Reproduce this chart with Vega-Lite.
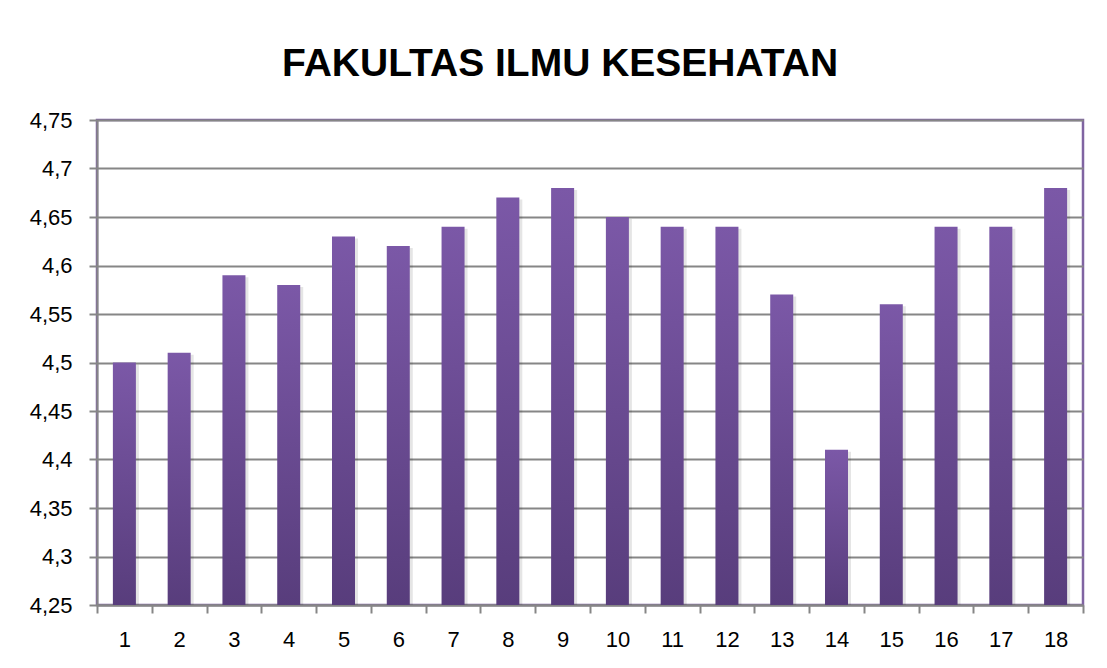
{
  "$schema": "https://vega.github.io/schema/vega-lite/v6.json",
  "autosize": "none",
  "width": 986,
  "height": 485,
  "padding": {"left": 97, "top": 120, "right": 24, "bottom": 63},
  "background": "white",
  "title": {
    "text": "FAKULTAS ILMU KESEHATAN",
    "font": "Liberation Sans",
    "fontSize": 39,
    "fontWeight": "bold",
    "color": "#000000",
    "anchor": "middle",
    "baseline": "alphabetic",
    "offset": 45,
    "dx": -30,
    "dy": 51
  },
  "data": {
    "values": [
      {"n": 1, "v": 4.5},
      {"n": 2, "v": 4.51},
      {"n": 3, "v": 4.59},
      {"n": 4, "v": 4.58},
      {"n": 5, "v": 4.63},
      {"n": 6, "v": 4.62},
      {"n": 7, "v": 4.64},
      {"n": 8, "v": 4.67},
      {"n": 9, "v": 4.68},
      {"n": 10, "v": 4.65},
      {"n": 11, "v": 4.64},
      {"n": 12, "v": 4.64},
      {"n": 13, "v": 4.57},
      {"n": 14, "v": 4.41},
      {"n": 15, "v": 4.56},
      {"n": 16, "v": 4.64},
      {"n": 17, "v": 4.64},
      {"n": 18, "v": 4.68}
    ]
  },
  "encoding": {
    "x": {
      "field": "n",
      "type": "ordinal",
      "scale": {"paddingInner": 0, "paddingOuter": 0},
      "axis": {
        "title": null,
        "labelAngle": 0,
        "labelFont": "Liberation Sans",
        "labelFontSize": 22,
        "labelColor": "#000000",
        "labelPadding": 16,
        "tickBand": "extent",
        "tickSize": 8,
        "tickColor": "#868686",
        "tickWidth": 2,
        "domainColor": "#868686",
        "domainWidth": 2,
        "grid": false
      }
    },
    "y": {
      "field": "v",
      "type": "quantitative",
      "scale": {"domain": [4.25, 4.75], "zero": false, "nice": false},
      "axis": {
        "title": null,
        "values": [4.25, 4.3, 4.35, 4.4, 4.45, 4.5, 4.55, 4.6, 4.65, 4.7, 4.75],
        "labelExpr": "replace(format(datum.value, '.2~f'), '.', ',')",
        "labelFont": "Liberation Sans",
        "labelFontSize": 22,
        "labelColor": "#000000",
        "labelPadding": 17,
        "tickSize": 8,
        "tickColor": "#868686",
        "tickWidth": 2,
        "domainColor": "#868686",
        "domainWidth": 2,
        "grid": true,
        "gridColor": "#868686",
        "gridWidth": 2
      }
    },
    "y2": {"datum": 4.25}
  },
  "layer": [
    {
      "mark": {"type": "bar", "width": {"band": 0.42}, "color": "#000000", "opacity": 0.1, "xOffset": 3, "yOffset": 2}
    },
    {
      "mark": {
        "type": "bar",
        "width": {"band": 0.42},
        "color": {
          "gradient": "linear",
          "x1": 0, "y1": 0, "x2": 0, "y2": 1,
          "stops": [
            {"offset": 0, "color": "#7B58A7"},
            {"offset": 1, "color": "#583D7C"}
          ]
        }
      }
    }
  ],
  "config": {
    "view": {"stroke": "#8064A2", "strokeWidth": 2.5}
  }
}
